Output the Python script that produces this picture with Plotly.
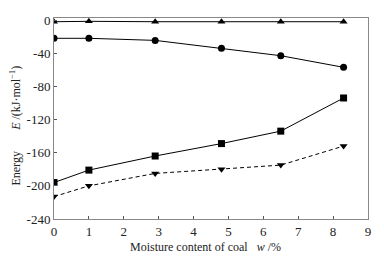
import plotly.graph_objects as go

moisture = [0, 1, 2.9, 4.8, 6.5, 8.3]
e_triangle = [-2, -1.5, -2, -2, -2, -2]
e_circle = [-22, -22, -24.5, -34, -43, -57]
e_square = [-196, -181, -164, -149, -134, -94]
e_tridown = [-213, -200, -185, -180, -175, -152]

x_ticks = [0, 1, 2, 3, 4, 5, 6, 7, 8, 9]
y_ticks = [0, -40, -80, -120, -160, -200, -240]
y_ticktext = ["0", "-40", "-80", "-120", "-160", "-200", "-240"]

FONT = "Liberation Serif"
fig = go.Figure()

series = [
    (e_triangle, "triangle-up", "solid"),
    (e_circle, "circle", "solid"),
    (e_square, "square", "solid"),
    (e_tridown, "triangle-down", "4px,3px"),
]
for ys, sym, dash in series:
    fig.add_trace(go.Scatter(
        x=moisture, y=ys, mode="lines+markers",
        line=dict(color="black", width=1, dash=dash),
        marker=dict(symbol=sym, size=7, color="black"),
        showlegend=False,
    ))

axis_common = dict(
    showgrid=False, zeroline=False, showline=True, linecolor="#888888",
    linewidth=1, mirror=True, ticks="inside", ticklen=3, tickcolor="#555555",
    tickfont=dict(family=FONT, size=13, color="#222222"),
)

fig.update_xaxes(range=[0, 9], tickvals=x_ticks, **axis_common)
fig.update_yaxes(range=[-240, 2.5], tickvals=y_ticks, ticktext=y_ticktext, **axis_common)

fig.add_annotation(
    text="Moisture content of coal&nbsp;&nbsp;&nbsp;<i>w</i> /%",
    xref="paper", yref="paper", x=0.483, y=-0.14, showarrow=False,
    xanchor="center", yanchor="middle",
    font=dict(family=FONT, size=12, color="#222222"),
)
fig.add_annotation(
    text="Energy",
    xref="paper", yref="paper", x=-0.121, y=0.251, showarrow=False,
    xanchor="center", yanchor="middle",
    textangle=-90, font=dict(family=FONT, size=12, color="#222222"),
)
fig.add_annotation(
    text="<i>E</i> /(kJ·mol<sup>−1</sup>)",
    xref="paper", yref="paper", x=-0.121, y=0.598, showarrow=False,
    xanchor="center", yanchor="middle",
    textangle=-90, font=dict(family=FONT, size=12, color="#222222"),
)

fig.update_layout(
    width=368, height=248,
    margin=dict(l=46, r=5, t=6, b=37),
    paper_bgcolor="white", plot_bgcolor="white",
)

fig.write_html("out.html")
